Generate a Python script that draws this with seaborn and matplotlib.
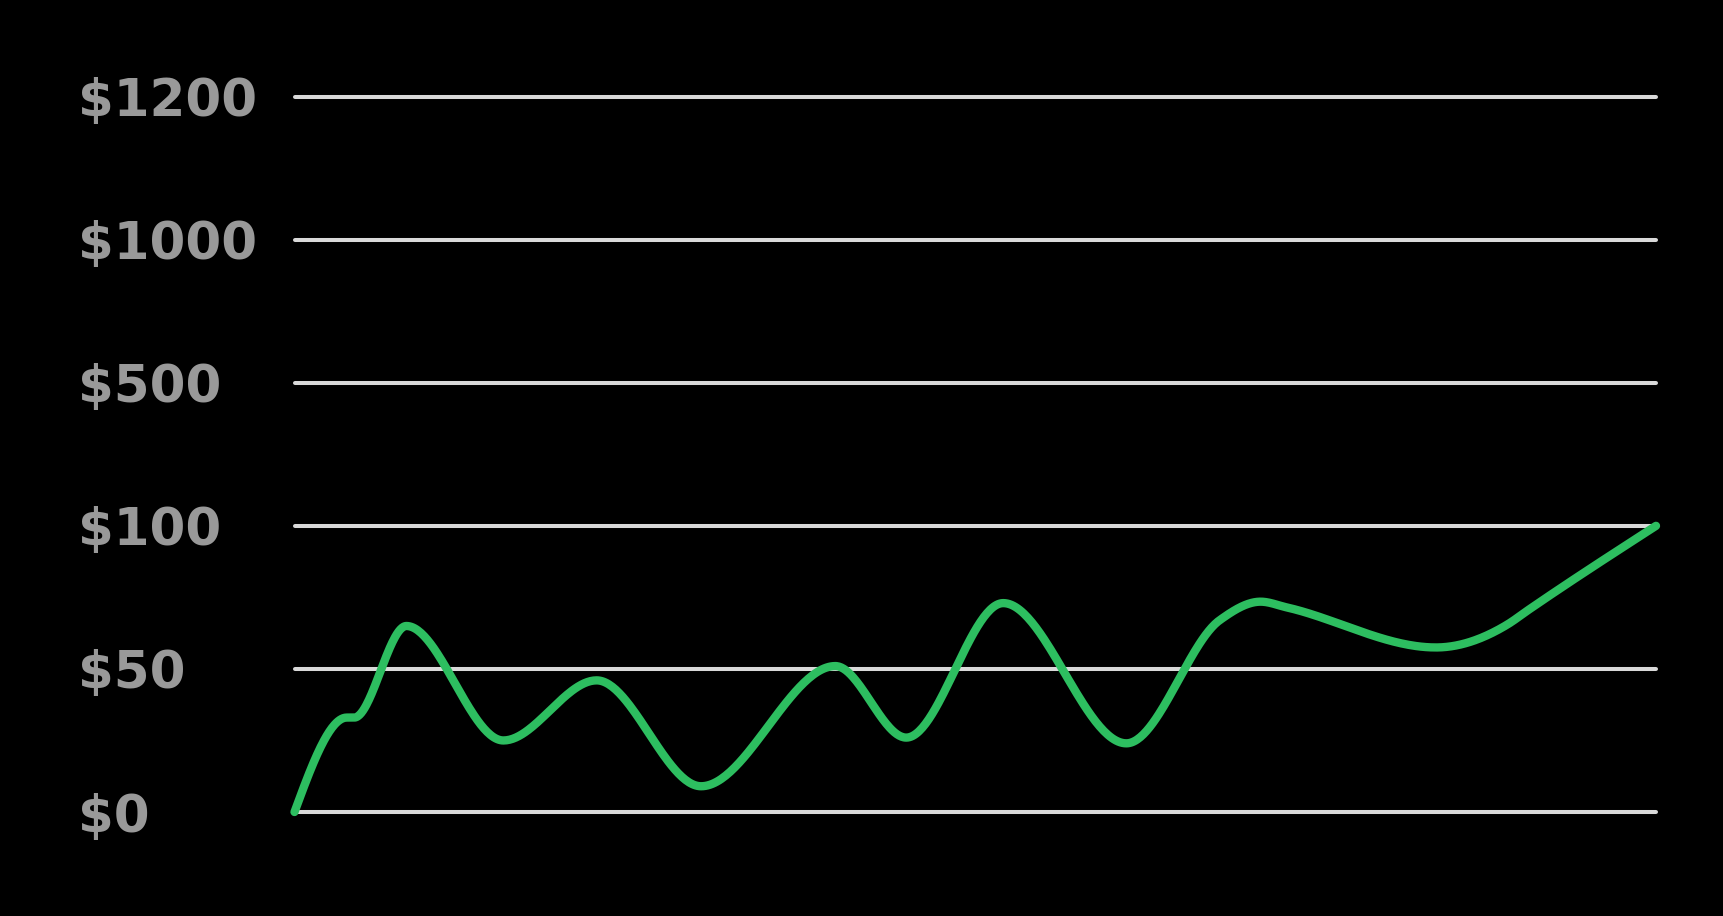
import numpy as np
import pandas as pd
import matplotlib
matplotlib.use("Agg")
import matplotlib.pyplot as plt
import seaborn as sns

# ---- data ----
days = [0, 14, 16, 30, 56, 81, 109, 145, 164, 190, 223, 248, 259, 266, 306, 325, 331, 365]
price = [0, 33, 33, 65, 25, 46, 9, 51, 26, 73, 24, 67, 73.5, 71.5, 57.5, 65.4, 70.8, 100]
tick_values = [0, 50, 100, 500, 1000, 1200]
tick_labels = ["$0", "$50", "$100", "$500", "$1000", "$1200"]

LINE_COLOR = "#2dbe60"
GRID_COLOR = "#d9d9d9"
LABEL_COLOR = "#999999"


def monotone_x(x, y, n=60):
    """d3-style monotone cubic interpolation (curveMonotoneX)."""
    x = np.asarray(x, float)
    y = np.asarray(y, float)
    h = np.diff(x)
    s = np.diff(y) / h
    m = np.zeros_like(y)
    for i in range(1, len(x) - 1):
        s0, s1 = s[i - 1], s[i]
        p = (s0 * h[i] + s1 * h[i - 1]) / (h[i - 1] + h[i])
        m[i] = (np.sign(s0) + np.sign(s1)) * min(abs(s0), abs(s1), 0.5 * abs(p))
    m[0] = (3 * s[0] - m[1]) / 2
    m[-1] = (3 * s[-1] - m[-2]) / 2
    xs, ys = [], []
    for i in range(len(x) - 1):
        t = np.linspace(0, 1, n, endpoint=(i == len(x) - 2))
        h00 = 2 * t**3 - 3 * t**2 + 1
        h10 = t**3 - 2 * t**2 + t
        h01 = -2 * t**3 + 3 * t**2
        h11 = t**3 - t**2
        xs.append(x[i] + t * h[i])
        ys.append(h00 * y[i] + h10 * h[i] * m[i] + h01 * y[i + 1] + h11 * h[i] * m[i + 1])
    return np.concatenate(xs), np.concatenate(ys)


# map dollar values onto the evenly spaced tick positions
positions = np.arange(len(tick_values))
pos = np.interp(price, tick_values, positions)
cx, cy = monotone_x(days, pos)
df = pd.DataFrame({"day": cx, "pos": cy})

sns.set_theme(style="dark")
plt.rcParams["font.family"] = ["DejaVu Sans"]

fig = plt.figure(figsize=(17.23, 9.16), dpi=100, facecolor="black")
ax = fig.add_axes([294.5 / 1723, 104 / 916, (1656 - 294.5) / 1723, (812.1 - 96.7) / 916])
ax.set_facecolor("black")

for p in positions:
    ax.axhline(p, color=GRID_COLOR, lw=2.9, zorder=1)

sns.lineplot(data=df, x="day", y="pos", sort=False, estimator=None,
             color=LINE_COLOR, lw=6.0, ax=ax, zorder=3)
for ln in ax.get_lines():
    ln.set_solid_capstyle("round")
    ln.set_solid_joinstyle("round")
    ln.set_clip_on(False)

ax.set_xlim(days[0], days[-1])
ax.set_ylim(positions[0], positions[-1])
ax.set_xticks([])
ax.set_yticks(positions)
ax.set_yticklabels(tick_labels)
ax.tick_params(axis="y", length=0, pad=216.5 * 72 / 100, labelsize=37,
               labelcolor=LABEL_COLOR)
for lab in ax.get_yticklabels():
    lab.set_horizontalalignment("left")
    lab.set_fontweight("bold")
ax.set_xlabel("")
ax.set_ylabel("")
ax.grid(False)
for sp in ax.spines.values():
    sp.set_visible(False)

fig.savefig("out.png", dpi=100, facecolor="black")
